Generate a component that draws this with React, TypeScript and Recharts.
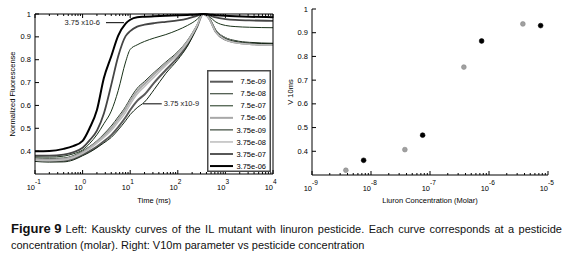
import React from "react";
import { LineChart, Line, XAxis, YAxis, ScatterChart, Scatter, ReferenceLine, Legend } from "recharts";

// time axis samples (ms)
const timesMs = [0.1, 0.2, 0.4, 0.63, 1, 1.4, 2, 2.8, 4, 5.6, 8, 10, 14, 20, 32, 56, 100, 160, 250, 340, 450, 630, 1000, 1600, 3200, 10000];

// kautsky curves, one per concentration
const v75e9 = [0.36, 0.357, 0.358, 0.366, 0.385, 0.4, 0.42, 0.443, 0.47, 0.505, 0.548, 0.58, 0.62, 0.648, 0.7, 0.755, 0.81, 0.866, 0.941, 1.0, 0.982, 0.922, 0.888, 0.876, 0.869, 0.866];
const v75e8 = [0.37, 0.368, 0.37, 0.38, 0.4, 0.42, 0.445, 0.475, 0.51, 0.55, 0.595, 0.63, 0.675, 0.705, 0.745, 0.79, 0.835, 0.885, 0.95, 1.0, 0.985, 0.93, 0.897, 0.884, 0.876, 0.872];
const v75e7 = [0.375, 0.374, 0.378, 0.388, 0.405, 0.433, 0.472, 0.52, 0.575, 0.665, 0.79, 0.845, 0.865, 0.88, 0.895, 0.91, 0.93, 0.95, 0.975, 1.0, 0.99, 0.965, 0.95, 0.945, 0.942, 0.94];
const v75e6 = [0.365, 0.363, 0.366, 0.376, 0.395, 0.415, 0.44, 0.468, 0.5, 0.54, 0.585, 0.62, 0.663, 0.695, 0.737, 0.783, 0.828, 0.88, 0.947, 1.0, 0.983, 0.925, 0.892, 0.878, 0.87, 0.866];
const v375e9 = [0.355, 0.352, 0.353, 0.361, 0.38, 0.395, 0.415, 0.436, 0.46, 0.493, 0.533, 0.56, 0.59, 0.615, 0.67, 0.74, 0.8, 0.86, 0.94, 1.0, 0.984, 0.927, 0.893, 0.88, 0.873, 0.87];
const v375e8 = [0.36, 0.358, 0.361, 0.371, 0.39, 0.41, 0.435, 0.46, 0.49, 0.528, 0.57, 0.605, 0.65, 0.683, 0.725, 0.775, 0.822, 0.875, 0.945, 1.0, 0.982, 0.922, 0.888, 0.875, 0.868, 0.864];
const v375e7 = [0.38, 0.38, 0.385, 0.395, 0.415, 0.447, 0.49, 0.565, 0.69, 0.815, 0.903, 0.925, 0.945, 0.953, 0.96, 0.966, 0.972, 0.98, 0.992, 1.0, 0.995, 0.985, 0.978, 0.974, 0.972, 0.97];
const v375e6 = [0.4, 0.401, 0.41, 0.422, 0.445, 0.5, 0.58, 0.72, 0.815, 0.905, 0.958, 0.975, 0.986, 0.988, 0.99, 0.992, 0.994, 0.996, 0.998, 1.0, 0.998, 0.995, 0.992, 0.99, 0.988, 0.986];

// right panel: V10ms vs concentration
const concGrey = [3.75e-9, 3.75e-8, 3.75e-7, 3.75e-6];
const vGrey = [0.32, 0.407, 0.755, 0.937];
const concBlack = [7.5e-9, 7.5e-8, 7.5e-7, 7.5e-6];
const vBlack = [0.362, 0.468, 0.865, 0.93];

const yTicks = [0.4, 0.5, 0.6, 0.7, 0.8, 0.9, 1];
const timeDecades = [-1, 0, 1, 2, 3, 4];
const concDecades = [-9, -8, -7, -6, -5];

const FONT = '"Liberation Sans", Arial, sans-serif';

const series = [
  { key: "s75e9", name: "7.5e-09", values: v75e9, color: "#5a5a5a", width: 2 },
  { key: "s75e8", name: "7.5e-08", values: v75e8, color: "#1f2f1f", width: 1 },
  { key: "s75e7", name: "7.5e-07", values: v75e7, color: "#1a331a", width: 1 },
  { key: "s75e6", name: "7.5e-06", values: v75e6, color: "#a8a8a8", width: 2 },
  { key: "s375e9", name: "3.75e-09", values: v375e9, color: "#142414", width: 1 },
  { key: "s375e8", name: "3.75e-08", values: v375e8, color: "#bcbcbc", width: 1.5 },
  { key: "s375e7", name: "3.75e-07", values: v375e7, color: "#454545", width: 1.8 },
  { key: "s375e6", name: "3.75e-06", values: v375e6, color: "#000000", width: 2 },
];

const rows = timesMs.map((t, i) => {
  const r: Record<string, number> = { t };
  series.forEach((s) => (r[s.key] = s.values[i]));
  return r;
});

const greyPts = concGrey.map((c, i) => ({ c, v: vGrey[i] }));
const blackPts = concBlack.map((c, i) => ({ c, v: vBlack[i] }));

// major + minor ticks for log axes
const logTicks = (decades: number[]) => {
  const out: number[] = [];
  decades.forEach((d, i) => {
    out.push(Math.pow(10, d));
    if (i < decades.length - 1) for (let m = 2; m <= 9; m++) out.push(m * Math.pow(10, d));
  });
  return out;
};

const isMajor = (v: number) => Math.abs(Math.log10(v) - Math.round(Math.log10(v))) < 1e-6;

const BottomTick = (props: any) => {
  const { x, y, payload } = props;
  const major = isMajor(payload.value);
  const e = Math.round(Math.log10(payload.value));
  return (
    <g>
      <line x1={x} x2={x} y1={y} y2={y - (major ? 4 : 2)} stroke="#000" strokeWidth={1} />
      {major && (
        <>
          <text x={x} y={y + 16} textAnchor="end" fontSize={7.5} fontFamily={FONT} fill="#000">10</text>
          <text x={x} y={y + 10} fontSize={6.5} fontFamily={FONT} fill="#000">{e}</text>
        </>
      )}
    </g>
  );
};

const TopTick = (props: any) => {
  const { x, y, payload } = props;
  const major = isMajor(payload.value);
  return <line x1={x} x2={x} y1={y} y2={y + (major ? 4 : 2)} stroke="#000" strokeWidth={1} />;
};

const LeftTick = (props: any) => {
  const { x, y, payload } = props;
  return (
    <g>
      <line x1={x} x2={x + 4} y1={y} y2={y} stroke="#000" strokeWidth={1} />
      <text x={x - 4} y={y + 2.5} textAnchor="end" fontSize={7.5} fontFamily={FONT} fill="#000">
        {String(payload.value)}
      </text>
    </g>
  );
};

const RightTick = (props: any) => {
  const { x, y } = props;
  return <line x1={x} x2={x - 4} y1={y} y2={y} stroke="#000" strokeWidth={1} />;
};

const yLabel = (text: string, dx: number) => (p: any) => {
  const vb = p.viewBox;
  const cx = vb.x + vb.width - dx;
  const cy = vb.y + vb.height / 2;
  return (
    <text x={cx} y={cy} transform={`rotate(-90, ${cx}, ${cy})`} textAnchor="middle" fontSize={7.5} fontFamily={FONT} fill="#000">
      {text}
    </text>
  );
};

const xLabel = (text: string, dy: number) => (p: any) => {
  const vb = p.viewBox;
  return (
    <text x={vb.x + vb.width / 2} y={vb.y + dy} textAnchor="middle" fontSize={7.5} fontFamily={FONT} fill="#000">
      {text}
    </text>
  );
};

const LegendBox = () => (
  <svg width={64} height={102} style={{ display: "block" }}>
    <rect x={0.75} y={0.75} width={62.5} height={100.5} fill="#fff" stroke="#4a4a4a" strokeWidth={1.5} />
    {series.map((s, i) => {
      const yy = 11.7 + i * 12.05;
      return (
        <g key={s.key}>
          <line x1={3} x2={26} y1={yy} y2={yy} stroke={s.color} strokeWidth={s.width} />
          <text x={59} y={yy + 2.6} textAnchor="end" fontSize={7.5} fontFamily={FONT} fill="#000">
            {s.name}
          </text>
        </g>
      );
    })}
  </svg>
);

const Dot = (fill: string, stroke: string) => (p: any) => (
  <circle cx={p.cx} cy={p.cy} r={2.4} fill={fill} stroke={stroke} strokeWidth={0.6} />
);

export default function App() {
  const timeTicks = logTicks(timeDecades);
  const concTicks = logTicks(concDecades);
  const captionLine = { width: 551, height: 16, lineHeight: "16px", fontSize: 11, color: "#111", fontFamily: FONT, whiteSpace: "nowrap" as const };
  return (
    <div style={{ position: "absolute", left: 0, top: 0, width: 567, height: 264, background: "#fff", fontFamily: FONT }}>
      <div style={{ position: "absolute", left: 0, top: 0 }}>
        <LineChart width={290} height={210} data={rows} margin={{ top: 10, left: 15, right: 13, bottom: 16 }}>
          <XAxis
            dataKey="t"
            type="number"
            scale="log"
            domain={[0.1, 10000]}
            ticks={timeTicks}
            interval={0}
            tickSize={0}
            tickMargin={0}
            height={20}
            tick={BottomTick}
            axisLine={{ stroke: "#000" }}
            label={{ content: xLabel("Time (ms)", 29) }}
          />
          <XAxis
            xAxisId="top"
            orientation="top"
            dataKey="t"
            type="number"
            scale="log"
            domain={[0.1, 10000]}
            ticks={timeTicks}
            interval={0}
            tickSize={0}
            tickMargin={0}
            height={4}
            tick={TopTick}
            axisLine={{ stroke: "#000" }}
          />
          <YAxis
            type="number"
            domain={[0.3, 1]}
            ticks={yTicks}
            interval={0}
            width={20}
            tickSize={0}
            tickMargin={0}
            tick={LeftTick}
            axisLine={{ stroke: "#000" }}
            label={{ content: yLabel("Normalized Fluorescense", 20) }}
          />
          <YAxis
            yAxisId="right"
            orientation="right"
            type="number"
            domain={[0.3, 1]}
            ticks={yTicks}
            interval={0}
            width={4}
            tickSize={0}
            tickMargin={0}
            tick={RightTick}
            axisLine={{ stroke: "#000" }}
          />
          {series.map((s) => (
            <Line
              key={s.key}
              dataKey={s.key}
              name={s.name}
              type="monotone"
              stroke={s.color}
              strokeWidth={s.width}
              dot={false}
              isAnimationActive={false}
            />
          ))}
          <ReferenceLine
            segment={[{ x: 3.1, y: 0.962 }, { x: 7.4, y: 0.962 }]}
            stroke="#000"
            strokeWidth={1}
            label={{ value: "3.75 x10-6", position: "left", offset: 6, fontSize: 7.5, fill: "#222", fontFamily: FONT }}
          />
          <ReferenceLine
            segment={[{ x: 18.6, y: 0.607 }, { x: 46, y: 0.607 }]}
            stroke="#000"
            strokeWidth={1}
            label={{ value: "3.75 x10-9", position: "right", offset: 2, fontSize: 7.5, fill: "#222", fontFamily: FONT }}
          />
          <Legend
            layout="vertical"
            align="center"
            verticalAlign="middle"
            wrapperStyle={{ left: 207, top: 70, width: 64, height: 102 }}
            content={() => <LegendBox />}
          />
        </LineChart>
      </div>
      <div style={{ position: "absolute", left: 280, top: 0 }}>
        <ScatterChart width={287} height={210} margin={{ top: 9, left: 12, right: 19, bottom: 15 }}>
          <XAxis
            dataKey="c"
            type="number"
            scale="log"
            domain={[1e-9, 1e-5]}
            ticks={concTicks}
            interval={0}
            tickSize={0}
            tickMargin={0}
            height={20}
            tick={BottomTick}
            axisLine={{ stroke: "#000" }}
            label={{ content: xLabel("Liuron Concentration (Molar)", 28) }}
          />
          <YAxis
            dataKey="v"
            type="number"
            domain={[0.3, 1]}
            ticks={yTicks}
            interval={0}
            width={20}
            tickSize={0}
            tickMargin={0}
            tick={LeftTick}
            axisLine={{ stroke: "#000" }}
            label={{ content: yLabel("V 10ms", 19) }}
          />
          <Scatter data={greyPts} shape={Dot("#a0a0a0", "#888")} isAnimationActive={false} />
          <Scatter data={blackPts} shape={Dot("#000", "#000")} isAnimationActive={false} />
        </ScatterChart>
      </div>
      <div style={{ position: "absolute", left: 11, top: 221, ...captionLine, display: "flex", justifyContent: "space-between", alignItems: "baseline" }}>
        <span style={{ fontWeight: "bold", fontSize: 13 }}>Figure 9</span>
        <span style={{ flex: 1, marginLeft: 4, textAlign: "justify", textAlignLast: "justify" }}>
          Left: Kauskty curves of the IL mutant with linuron pesticide. Each curve corresponds at a pesticide
        </span>
      </div>
      <div style={{ position: "absolute", left: 11, top: 237, ...captionLine }}>
        concentration (molar). Right: V10m parameter vs pesticide concentration
      </div>
    </div>
  );
}
